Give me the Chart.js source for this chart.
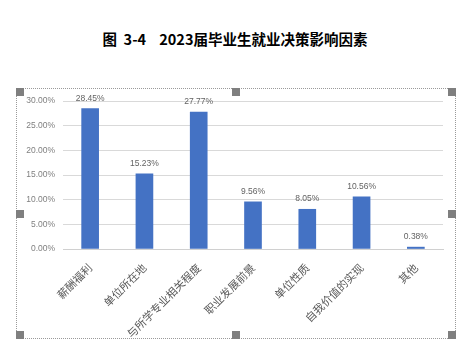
<!DOCTYPE html>
<html>
<head>
<meta charset="utf-8">
<script src="https://cdn.jsdelivr.net/npm/chart.js@4.4.0/dist/chart.umd.min.js"></script>
<style>
  html, body { margin: 0; padding: 0; background: #fff; }
  #wrap { position: relative; width: 472px; height: 352px; overflow: hidden; }
  #title {
    position: absolute; left: 0; top: 28px; width: 470px; text-align: center;
    font: bold 14.5px "Noto Sans CJK SC", sans-serif; color: #000; white-space: pre;
  }
  #frame {
    position: absolute; left: 16px; top: 88px; width: 440px; height: 251px;
    border: 1px dotted #9a9a9a; box-sizing: border-box;
  }
  .h { position: absolute; width: 8px; height: 8px; background: #7f7f7f; }
  canvas { position: absolute; left: 0; top: 0; }
</style>
</head>
<body>
<div id="wrap">
  <div id="title">图  3-4    2023届毕业生就业决策影响因素</div>
  <div id="frame"></div>
  <div class="h" style="left:16px;top:88px"></div>
  <div class="h" style="left:232px;top:88px"></div>
  <div class="h" style="left:448px;top:88px"></div>
  <div class="h" style="left:16px;top:210px"></div>
  <div class="h" style="left:448px;top:210px"></div>
  <div class="h" style="left:16px;top:331px"></div>
  <div class="h" style="left:232px;top:331px"></div>
  <div class="h" style="left:448px;top:331px"></div>
  <canvas id="chart" width="472" height="352"></canvas>
</div>
<script>
// 影响因素及占比（%）
const categories = ['薪酬福利', '单位所在地', '与所学专业相关程度', '职业发展前景', '单位性质', '自我价值的实现', '其他'];
const shares = [28.45, 15.23, 27.77, 9.56, 8.05, 10.56, 0.38];
const yTicks = [0, 5, 10, 15, 20, 25, 30];

const numFont = '"Liberation Sans", "Noto Sans CJK SC", sans-serif';

// 柱顶数值标签
const barLabels = {
  id: 'barLabels',
  afterDatasetsDraw(chart) {
    const ctx = chart.ctx;
    const meta = chart.getDatasetMeta(0);
    ctx.save();
    ctx.font = '8.5px ' + numFont;
    ctx.fillStyle = '#636363';
    ctx.textAlign = 'center';
    ctx.textBaseline = 'bottom';
    meta.data.forEach((bar, i) => {
      ctx.fillText(shares[i].toFixed(2) + '%', bar.x, bar.y - 6);
    });
    ctx.restore();
  }
};

new Chart(document.getElementById('chart').getContext('2d'), {
  type: 'bar',
  data: {
    labels: categories,
    datasets: [{
      data: shares,
      backgroundColor: '#4472C4',
      barThickness: 17
    }]
  },
  options: {
    responsive: false,
    animation: false,
    layout: { padding: { top: 101, right: 29, left: 0, bottom: 0 } },
    plugins: {
      legend: { display: false },
      tooltip: { enabled: false }
    },
    scales: {
      x: {
        grid: { display: false },
        border: { display: true, color: '#d0d0d0' },
        ticks: {
          minRotation: 45, maxRotation: 45, padding: 4,
          color: '#595959',
          font: { family: '"Noto Sans CJK SC", sans-serif', size: 11 }
        },
        afterFit: s => { s.height = 103; }
      },
      y: {
        min: 0, max: 30,
        afterBuildTicks: s => { s.ticks = yTicks.map(v => ({ value: v })); },
        grid: { color: '#d9d9d9', drawTicks: false },
        border: { display: false },
        ticks: {
          padding: 8,
          color: '#7f7f7f',
          font: { family: numFont, size: 8.5 },
          callback: v => v.toFixed(2) + '%'
        },
        afterFit: s => { s.width = 63; }
      }
    }
  },
  plugins: [barLabels]
});
</script>
</body>
</html>
